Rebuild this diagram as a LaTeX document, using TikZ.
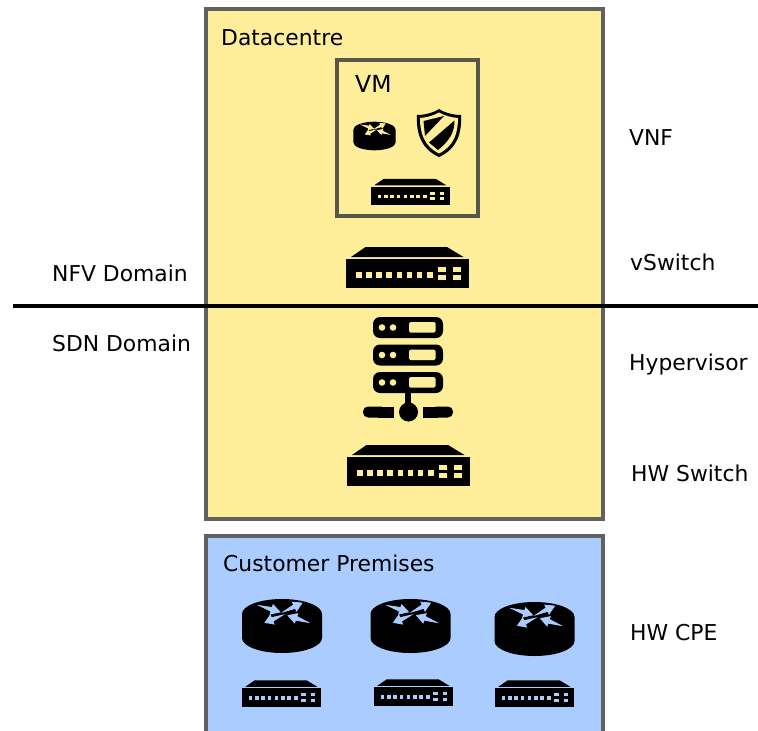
\documentclass[tikz,border=0pt]{standalone}
\usepackage{fontspec}
\setmainfont{DejaVu Sans}
\usepackage{xcolor}
\usetikzlibrary{positioning}

\definecolor{dcyellow}{HTML}{FFEE99}
\definecolor{cpblue}{HTML}{AACCFF}
\definecolor{boxgrey}{HTML}{616161}
\definecolor{vmgrey}{HTML}{57574A}

\tikzset{
  pics/switchicon/.style={code={
    \fill[black] (-42,-20.5) -- (39.5,-20.5) -- (56,-10.5) -- (-56.5,-10.5) -- cycle;
    \fill[black] (-61.5,-8.5) rectangle (61.5,20.5);
    \foreach \px in {-48.6,-38.6,-28.4,-18.6,-8,2,12,22.7}
      \fill[#1] (\px-2.9,4.3) rectangle (\px+2.9,10);
    \foreach \px in {34.5,49.2}
      \foreach \py in {2,10.2}
        \fill[#1] (\px-3.8,\py-2.3) rectangle (\px+3.8,\py+2.3);
  }},
  pics/routericon/.style={code={
    \fill[black] (-40,-12) arc[start angle=180, end angle=360, x radius=40, y radius=15]
      -- (40,12) arc[start angle=0, end angle=180, x radius=40, y radius=15] -- cycle;
    \filldraw[#1, line width=0.7] (-23,-20.5) -- (-9.8,-18.5) -- (-8.9,-21.35) -- (-2,-14) -- (-11.9,-11.85) -- (-11,-14.7) -- cycle;
    \filldraw[#1, line width=0.7] (1,-14) -- (13.26,-17.6) -- (14.55,-14.9) -- (20,-23) -- (10.25,-23.9) -- (11.54,-21.2) -- cycle;
    \filldraw[#1, line width=0.7] (1,-11) -- (-10.56,-8.34) -- (-11.7,-11.1) -- (-17,-3.5) -- (-7.9,-1.9) -- (-9.04,-4.66) -- cycle;
    \filldraw[#1, line width=0.7] (26.5,-3.5) -- (14.84,-9.6) -- (15.8,-12.4) -- (6,-10.5) -- (12.6,-3) -- (13.56,-5.8) -- cycle;
  }},
  pics/servericon/.style={code={
    \foreach \py in {-44.5,-17,10.5} {
      \fill[black, rounded corners=7] (-35,\py-10.5) rectangle (35,\py+10.5);
      \fill[#1] (-26,\py) circle[radius=3.3];
      \fill[#1] (-15,\py) circle[radius=3.3];
      \fill[#1, rounded corners=1.5] (1,\py-5.5) rectangle (27.5,\py+5);
    }
    \fill[black] (-3,20) rectangle (3,35);
    \fill[black] (0.5,40) circle[radius=9.5];
    \fill[black, rounded corners=5] (-45,34.5) rectangle (-22,45.5);
    \fill[black] (-30,34.5) rectangle (-14.5,45.5);
    \fill[black, rounded corners=5] (23,34.5) rectangle (45,45.5);
    \fill[black] (15,34.5) rectangle (30,45.5);
  }},
  pics/shieldicon/.style={code={
    \fill[black] (0,-24) .. controls (-6,-20) and (-15,-18) .. (-22,-18)
      .. controls (-23,0) and (-18,16) .. (0,24)
      .. controls (18,16) and (23,0) .. (22,-18)
      .. controls (15,-18) and (6,-20) .. (0,-24) -- cycle;
    \fill[#1] (0,-20.5) .. controls (-6,-17) and (-13,-15.5) .. (-19,-15)
      .. controls (-19,0) and (-15,13) .. (0,20.5)
      .. controls (15,13) and (19,0) .. (19,-15)
      .. controls (13,-15.5) and (6,-17) .. (0,-20.5) -- cycle;
    \fill[black] (-15.5,-12) -- (5,-17) -- (-14,3) -- cycle;
    \fill[black] (15.5,-12.5) .. controls (15.5,0) and (10,8) .. (-1,17) -- (-10,9.5) -- cycle;
  }}
}

\begin{document}
\begin{tikzpicture}[
      x=1pt, y=-1pt,
      every node/.style={font=\fontsize{21.85}{26}\selectfont},
      tag/.style={anchor=base west, inner sep=0pt},
      zone/.style={draw=boxgrey, line width=4, inner sep=0pt},
      divider/.style={line width=4, black}
    ]

    \clip (0,0) rectangle (758,731);

    % Boxes
    \node[zone, fill=dcyellow, minimum width=397, minimum height=510] (datacentre) at (404.5,264) {};
    \node[zone, fill=cpblue, minimum width=397, minimum height=220] (premises) at (404.5,646) {};
    \node[zone, draw=vmgrey, minimum width=141, minimum height=156] (vm) at (407.5,138) {};

    % Divider
    \coordinate (lineleft) at (13,306);
    \coordinate (lineright) at (758,306);
    \draw[divider] (lineleft) -- (lineright);

    % Labels
    \node[tag] (dclabel) at (221,45) {Datacentre};
    \node[tag, font=\fontsize{23.5}{28}\selectfont] (vmlabel) at (355,92) {VM};
    \node[tag] (cplabel) at (223,571) {Customer Premises};
    \node[tag] (nfv) at (52,281) {NFV Domain};
    \node[tag] (sdn) at (52,351) {SDN Domain};
    \node[tag] (vnf) at (629,145) {VNF};
    \node[tag] (vswitch) at (630,270) {vSwitch};
    \node[tag] (hypervisor) at (629,370) {Hypervisor};
    \node[tag] (hwswitch) at (631,481) {HW Switch};
    \node[tag] (hwcpe) at (630,640) {HW CPE};

    % Datacentre icons
    \pic[scale=0.53] (vmrouter) at (374.5,136) {routericon=dcyellow};
    \pic (vmshield) at (439,133) {shieldicon=dcyellow};
    \pic[scale=0.64] (vmswitch) at (410.5,192) {switchicon=dcyellow};
    \pic (vswitchicon) at (407.5,267.5) {switchicon=dcyellow};
    \pic (servers) at (408,372) {servericon=dcyellow};
    \pic (hwswitchicon) at (408.5,465.5) {switchicon=dcyellow};

    % Customer icons
    \pic (routera) at (282,626) {routericon=cpblue};
    \pic (routerb) at (410.5,626) {routericon=cpblue};
    \pic (routerc) at (534.5,629) {routericon=cpblue};
    \pic[scale=0.64] (switcha) at (281.5,693.5) {switchicon=cpblue};
    \pic[scale=0.64] (switchb) at (413.5,692.5) {switchicon=cpblue};
    \pic[scale=0.64] (switchc) at (534.5,693.5) {switchicon=cpblue};

  \end{tikzpicture}
\end{document}
